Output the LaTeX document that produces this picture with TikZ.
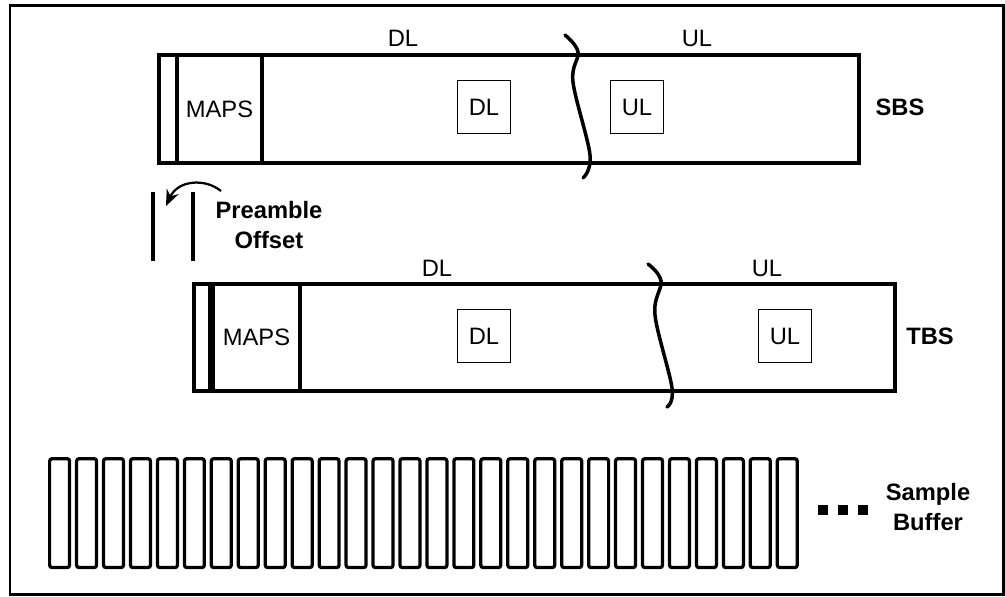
\documentclass[tikz,border=0pt]{standalone}
\usepackage{fontspec}
\setmainfont{Liberation Sans}
\usepackage{tikz}
\usetikzlibrary{arrows.meta,positioning}
\tikzset{
    frameBox/.style={
        draw,
        line width=0.08cm,
        inner sep=0pt,
        anchor=north west
    },
    tagBox/.style={
        draw,
        line width=0.6pt,
        minimum width=1.06cm,
        minimum height=1.06cm,
        inner sep=0pt
    },
    sampleBox/.style={
        draw,
        line width=0.065cm,
        rounded corners=0.5mm,
        minimum width=0.4cm,
        minimum height=2.18cm,
        inner sep=0pt,
        anchor=north west
    },
    cutLine/.style={
        line width=0.07cm,
        line cap=round
    },
    offsetArrow/.style={
        -{Stealth[length=3.2mm,width=2.6mm]},
        line width=0.045cm
    },
    sideLabel/.style={
        font=\fontsize{13.5}{17}\selectfont\bfseries,
        align=center
    }
}

\begin{document}
\begin{tikzpicture}[x=0.02cm,y=-0.02cm,font=\fontsize{13.5}{17}\selectfont]
    \useasboundingbox (0,0) rectangle (1005,596);
    \draw[line width=0.06cm] (10,5) rectangle (1003,594);

    % SBS frame
    \node[frameBox,minimum width=14cm,minimum height=2.16cm] (sbs) at (157,53) {};
    \node[frameBox,minimum width=1.7cm,minimum height=2.16cm] (sbsMaps) at (175,53) {MAPS};
    \node[tagBox] (sbsDl) at (484,107) {DL};
    \node[tagBox] (sbsUl) at (637,107) {UL};
    \node (sbsDlTop) at (403,38) {DL};
    \node (sbsUlTop) at (697,38) {UL};
    \node[sideLabel] (sbsName) at (900,107) {SBS};
    \draw[cutLine] plot[smooth,tension=0.6] coordinates {(565,35) (578,52) (573,82) (590,155) (583,178)};

    % preamble offset
    \draw[line width=0.07cm] (153,192) -- (153,261);
    \draw[line width=0.07cm] (193,192) -- (193,261);
    \coordinate (offStart) at (221,191);
    \coordinate (offEnd) at (166,206);
    \draw[offsetArrow] (offStart) .. controls (205,178) and (178,180) .. (offEnd);
    \node[sideLabel] (offset) at (269,225) {Preamble\\Offset};

    % TBS frame
    \node[frameBox,minimum width=14.02cm,minimum height=2.14cm] (tbs) at (192,282) {};
    \node[frameBox,minimum width=1.74cm,minimum height=2.14cm] (tbsMaps) at (211,282) {MAPS};
    \draw[line width=0.12cm] (tbsMaps.north west) -- (tbsMaps.south west);
    \node[tagBox] (tbsDl) at (484,336) {DL};
    \node[tagBox] (tbsUl) at (785,336) {UL};
    \node (tbsDlTop) at (437,268) {DL};
    \node (tbsUlTop) at (767,268) {UL};
    \node[sideLabel] (tbsName) at (930,336) {TBS};
    \draw[cutLine] plot[smooth,tension=0.6] coordinates {(648,264) (661,281) (655,315) (672,388) (667,407)};

    % sample buffer
    \foreach \i in {0,...,27}
        \node[sampleBox] (sample\i) at (48+26.95*\i,457) {};
    \foreach \x in {818,838,858}
        \fill (\x,505) rectangle ++(10,10);
    \node[sideLabel] (buffer) at (928,507) {Sample\\Buffer};
\end{tikzpicture}
\end{document}
